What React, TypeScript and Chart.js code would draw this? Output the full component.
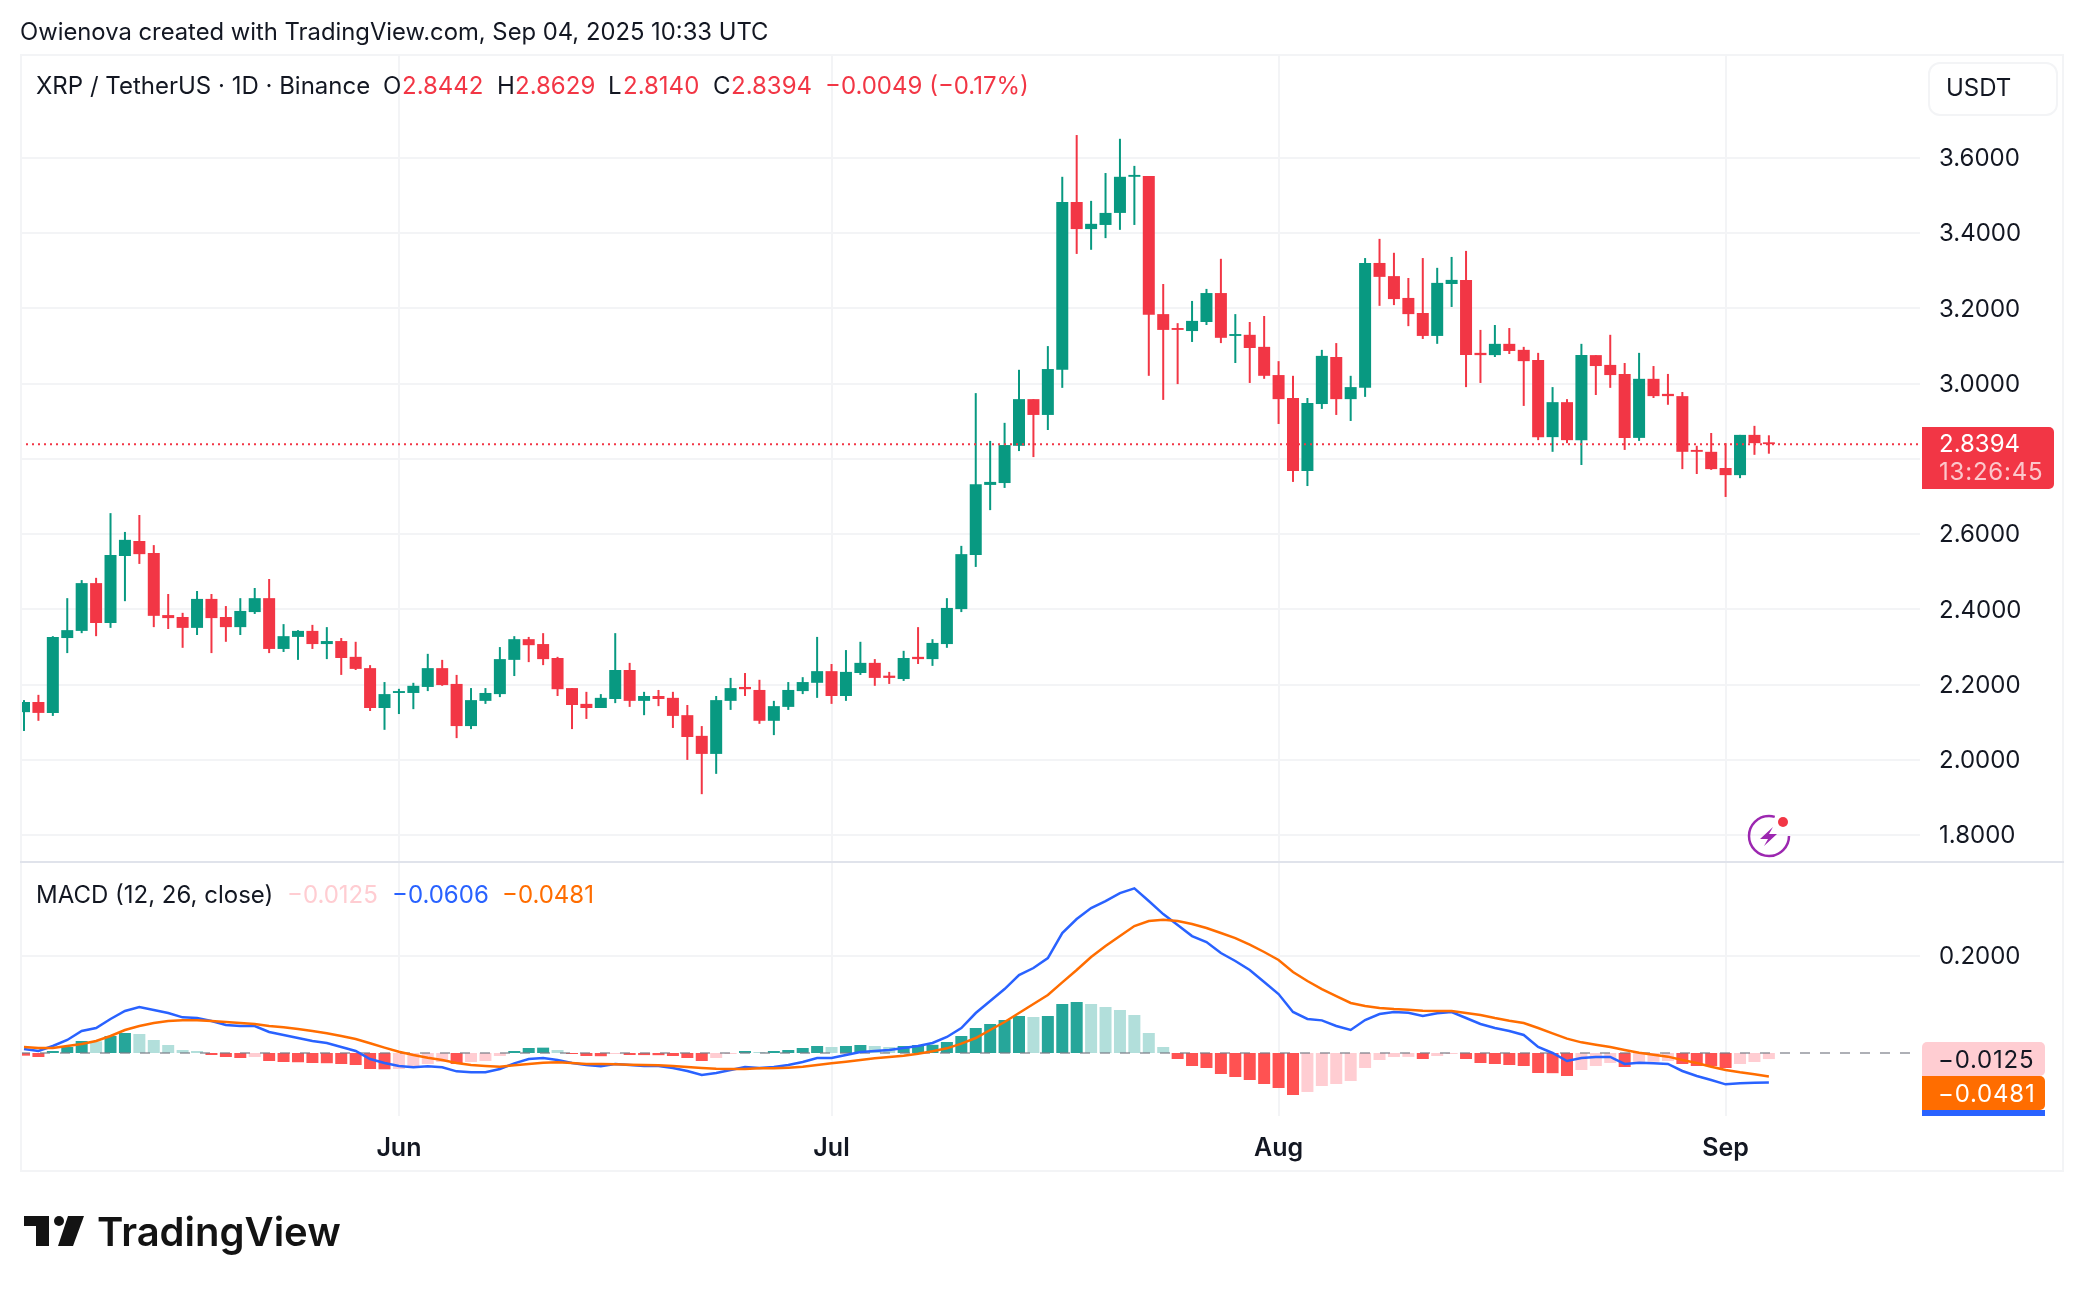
import React, { useEffect, useRef } from 'react';
import { Chart, registerables } from 'chart.js';

Chart.register(...registerables);

// XRP/USDT daily, May 6 to Sep 4 2025, one entry per day
const opens = [
  2.127, 2.154, 2.125, 2.324, 2.343, 2.470, 2.364, 2.542, 2.582, 2.550, 2.385, 2.380, 2.351, 2.428, 2.380, 2.353, 2.393, 2.430, 2.295, 2.327,
  2.343, 2.308, 2.316, 2.274, 2.244, 2.138, 2.178, 2.178, 2.194, 2.244, 2.202, 2.090, 2.157, 2.175, 2.266, 2.321, 2.308, 2.271, 2.191, 2.149,
  2.138, 2.162, 2.239, 2.157, 2.170, 2.165, 2.119, 2.064, 2.016, 2.157, 2.194, 2.186, 2.104, 2.141, 2.183, 2.205, 2.236, 2.170, 2.231, 2.258,
  2.224, 2.215, 2.274, 2.268, 2.308, 2.401, 2.545, 2.731, 2.736, 2.835, 2.959, 2.917, 3.037, 3.483, 3.411, 3.422, 3.454, 3.550, 3.552, 3.185,
  3.148, 3.140, 3.164, 3.241, 3.127, 3.130, 3.098, 3.023, 2.962, 2.768, 2.946, 3.071, 2.959, 2.989, 3.321, 3.286, 3.228, 3.188, 3.127, 3.265,
  3.276, 3.082, 3.076, 3.106, 3.090, 3.063, 2.858, 2.951, 2.850, 3.076, 3.050, 3.026, 2.856, 3.013, 2.973, 2.967, 2.824, 2.819, 2.776, 2.757,
  2.864, 2.8442,
];
const highs = [
  2.159, 2.173, 2.329, 2.430, 2.478, 2.484, 2.656, 2.606, 2.651, 2.571, 2.441, 2.391, 2.449, 2.441, 2.409, 2.430, 2.457, 2.481, 2.361, 2.345,
  2.359, 2.353, 2.324, 2.314, 2.252, 2.207, 2.189, 2.205, 2.282, 2.266, 2.226, 2.191, 2.191, 2.300, 2.329, 2.327, 2.337, 2.274, 2.191, 2.181,
  2.175, 2.337, 2.258, 2.181, 2.186, 2.181, 2.146, 2.090, 2.170, 2.218, 2.231, 2.213, 2.157, 2.207, 2.220, 2.327, 2.255, 2.292, 2.314, 2.268,
  2.234, 2.290, 2.353, 2.321, 2.430, 2.569, 2.975, 2.848, 2.896, 3.037, 2.959, 3.100, 3.550, 3.661, 3.486, 3.560, 3.651, 3.579, 3.552, 3.265,
  3.161, 3.220, 3.252, 3.332, 3.185, 3.164, 3.180, 3.060, 3.021, 2.962, 3.090, 3.108, 3.021, 3.334, 3.385, 3.348, 3.281, 3.334, 3.308, 3.337,
  3.353, 3.143, 3.156, 3.148, 3.098, 3.082, 2.991, 2.959, 3.106, 3.076, 3.130, 3.055, 3.082, 3.047, 3.026, 2.978, 2.835, 2.869, 2.842, 2.864,
  2.888, 2.8629,
];
const lows = [
  2.077, 2.104, 2.117, 2.284, 2.337, 2.329, 2.351, 2.422, 2.521, 2.353, 2.348, 2.298, 2.332, 2.284, 2.314, 2.332, 2.388, 2.284, 2.287, 2.266,
  2.295, 2.268, 2.226, 2.239, 2.130, 2.080, 2.122, 2.135, 2.183, 2.197, 2.058, 2.082, 2.149, 2.167, 2.223, 2.260, 2.252, 2.170, 2.082, 2.109,
  2.138, 2.151, 2.141, 2.119, 2.143, 2.085, 2.000, 1.909, 1.963, 2.133, 2.170, 2.096, 2.066, 2.133, 2.175, 2.165, 2.149, 2.157, 2.226, 2.197,
  2.202, 2.210, 2.255, 2.250, 2.298, 2.393, 2.513, 2.664, 2.723, 2.821, 2.805, 2.877, 2.989, 3.345, 3.356, 3.387, 3.409, 3.422, 3.021, 2.957,
  2.999, 3.111, 3.156, 3.108, 3.055, 3.002, 3.013, 2.893, 2.739, 2.728, 2.933, 2.917, 2.901, 2.965, 3.207, 3.209, 3.153, 3.119, 3.106, 3.204,
  2.991, 3.002, 3.071, 3.079, 2.941, 2.850, 2.819, 2.842, 2.784, 2.970, 2.989, 2.824, 2.848, 2.962, 2.944, 2.773, 2.760, 2.771, 2.699, 2.749,
  2.811, 2.8140,
];
const closes = [
  2.154, 2.125, 2.327, 2.345, 2.470, 2.364, 2.545, 2.585, 2.547, 2.383, 2.377, 2.351, 2.428, 2.377, 2.353, 2.396, 2.430, 2.295, 2.329, 2.343,
  2.308, 2.316, 2.271, 2.242, 2.138, 2.175, 2.183, 2.197, 2.244, 2.199, 2.090, 2.159, 2.178, 2.268, 2.321, 2.305, 2.268, 2.188, 2.146, 2.138,
  2.165, 2.239, 2.157, 2.170, 2.162, 2.117, 2.061, 2.016, 2.159, 2.191, 2.188, 2.104, 2.143, 2.186, 2.207, 2.236, 2.170, 2.234, 2.258, 2.218,
  2.218, 2.271, 2.268, 2.311, 2.404, 2.547, 2.733, 2.739, 2.837, 2.959, 2.917, 3.039, 3.483, 3.411, 3.425, 3.454, 3.550, 3.555, 3.183, 3.143,
  3.143, 3.167, 3.241, 3.122, 3.132, 3.095, 3.021, 2.959, 2.768, 2.949, 3.074, 2.959, 2.991, 3.321, 3.284, 3.225, 3.185, 3.127, 3.268, 3.276,
  3.076, 3.076, 3.106, 3.087, 3.060, 2.858, 2.951, 2.850, 3.076, 3.047, 3.023, 2.856, 3.013, 2.967, 2.967, 2.819, 2.819, 2.773, 2.757, 2.864,
  2.842, 2.8394,
];

const macdHist = [
  -0.0055, -0.0082, 0.0041, 0.0123, 0.0247, 0.0240, 0.0349, 0.0411, 0.0390, 0.0267, 0.0164, 0.0062, 0.0041, -0.0041, -0.0082, -0.0103, -0.0082, -0.0164, -0.0185, -0.0190,
  -0.0206, -0.0210, -0.0226, -0.0247, -0.0329, -0.0335, -0.0329, -0.0288, -0.0226, -0.0185, -0.0226, -0.0185, -0.0164, -0.0062, 0.0041, 0.0103, 0.0110, 0.0062, -0.0021, -0.0062,
  -0.0066, -0.0021, -0.0041, -0.0043, -0.0045, -0.0062, -0.0103, -0.0164, -0.0103, -0.0021, 0.0041, 0.0021, 0.0041, 0.0062, 0.0103, 0.0144, 0.0123, 0.0144, 0.0164, 0.0144,
  0.0123, 0.0144, 0.0164, 0.0168, 0.0226, 0.0349, 0.0514, 0.0596, 0.0678, 0.0760, 0.0740, 0.0760, 0.1007, 0.1048, 0.1007, 0.0945, 0.0884, 0.0781, 0.0411, 0.0123,
  -0.0123, -0.0267, -0.0308, -0.0432, -0.0493, -0.0555, -0.0637, -0.0719, -0.0863, -0.0801, -0.0678, -0.0637, -0.0575, -0.0308, -0.0144, -0.0082, -0.0080, -0.0123, -0.0062, -0.0021,
  -0.0123, -0.0206, -0.0226, -0.0247, -0.0267, -0.0411, -0.0415, -0.0473, -0.0349, -0.0267, -0.0206, -0.0288, -0.0185, -0.0180, -0.0164, -0.0226, -0.0267, -0.0270, -0.0308, -0.0226,
  -0.0185, -0.0125,
];
const macdLine = [
  0.0082, 0.0041, 0.0144, 0.0267, 0.0452, 0.0514, 0.0699, 0.0863, 0.0945, 0.0884, 0.0822, 0.0733, 0.0719, 0.0658, 0.0575, 0.0555, 0.0555, 0.0432, 0.0370, 0.0308,
  0.0247, 0.0206, 0.0123, 0.0041, -0.0123, -0.0206, -0.0267, -0.0295, -0.0274, -0.0295, -0.0377, -0.0397, -0.0397, -0.0329, -0.0212, -0.0123, -0.0103, -0.0144, -0.0206, -0.0247,
  -0.0274, -0.0226, -0.0247, -0.0267, -0.0267, -0.0308, -0.0370, -0.0452, -0.0411, -0.0349, -0.0288, -0.0308, -0.0288, -0.0247, -0.0185, -0.0103, -0.0103, -0.0041, 0.0021, 0.0041,
  0.0062, 0.0103, 0.0144, 0.0206, 0.0329, 0.0514, 0.0822, 0.1069, 0.1315, 0.1603, 0.1747, 0.1952, 0.2466, 0.2754, 0.2980, 0.3124, 0.3288, 0.3384, 0.3124, 0.2856,
  0.2630, 0.2404, 0.2281, 0.2055, 0.1891, 0.1706, 0.1459, 0.1212, 0.0843, 0.0699, 0.0671, 0.0555, 0.0473, 0.0678, 0.0801, 0.0843, 0.0829, 0.0760, 0.0815, 0.0843,
  0.0719, 0.0596, 0.0514, 0.0452, 0.0370, 0.0123, 0.0000, -0.0164, -0.0103, -0.0082, -0.0082, -0.0226, -0.0199, -0.0212, -0.0226, -0.0370, -0.0473, -0.0555, -0.0644, -0.0623,
  -0.0610, -0.0606,
];
const signalLine = [
  0.0123, 0.0103, 0.0103, 0.0144, 0.0185, 0.0247, 0.0349, 0.0473, 0.0555, 0.0617, 0.0658, 0.0671, 0.0671, 0.0658, 0.0637, 0.0617, 0.0596, 0.0555, 0.0527, 0.0493,
  0.0452, 0.0404, 0.0349, 0.0288, 0.0199, 0.0110, 0.0027, -0.0041, -0.0096, -0.0144, -0.0206, -0.0247, -0.0267, -0.0281, -0.0253, -0.0226, -0.0199, -0.0192, -0.0206, -0.0226,
  -0.0226, -0.0233, -0.0240, -0.0247, -0.0253, -0.0267, -0.0288, -0.0308, -0.0322, -0.0329, -0.0329, -0.0315, -0.0315, -0.0301, -0.0281, -0.0247, -0.0212, -0.0178, -0.0144, -0.0110,
  -0.0082, -0.0055, -0.0014, 0.0034, 0.0096, 0.0192, 0.0308, 0.0473, 0.0637, 0.0822, 0.1007, 0.1192, 0.1452, 0.1706, 0.1973, 0.2199, 0.2404, 0.2610, 0.2713, 0.2740,
  0.2713, 0.2651, 0.2569, 0.2466, 0.2363, 0.2226, 0.2076, 0.1911, 0.1665, 0.1480, 0.1315, 0.1171, 0.1028, 0.0966, 0.0925, 0.0904, 0.0891, 0.0870, 0.0863, 0.0863,
  0.0822, 0.0781, 0.0719, 0.0664, 0.0617, 0.0514, 0.0404, 0.0295, 0.0219, 0.0171, 0.0123, 0.0062, 0.0007, -0.0034, -0.0075, -0.0144, -0.0206, -0.0281, -0.0349, -0.0397,
  -0.0438, -0.0481,
];

const priceTicks = [1.8, 2.0, 2.2, 2.4, 2.6, 2.8, 3.0, 3.2, 3.4, 3.6];
const macdTicks = [0.2];
const monthLabels = ['Jun', 'Jul', 'Aug', 'Sep'];
const monthIndexes = [26, 56, 87, 118];
const lastPrice = 2.8394;

const UP = '#089981';
const DOWN = '#F23645';
const INK = '#131722';
const GRID = '#F3F4F6';
const FONT = 'Inter, "Noto Sans", sans-serif';

// day index range visible in the pane, price and MACD ranges of the two panes
const X_MIN = -0.277;
const X_MAX = 131.48;
const PRICE_MIN = 1.7287;
const PRICE_MAX = 3.8764;
const MACD_MIN = -0.1295;
const MACD_MAX = 0.3926;

const histColor = (v: number, i: number) => {
  const prev = i > 0 ? macdHist[i - 1] : 0;
  if (v >= 0) return v > prev ? '#26A69A' : '#B2DFDB';
  return v < prev ? '#FF5252' : '#FFCDD2';
};

const Txt: React.FC<{
  x: number;
  y: number;
  size?: number;
  color?: string;
  weight?: number;
  spacing?: number;
  children: React.ReactNode;
}> = ({ x, y, size = 24, color = INK, weight = 400, spacing = 0, children }) => (
  <span
    style={{
      position: 'absolute',
      left: x,
      top: y,
      transform: 'translateY(-50%)',
      fontFamily: FONT,
      fontSize: size,
      color,
      fontWeight: weight,
      letterSpacing: spacing,
      whiteSpace: 'pre',
      lineHeight: 1,
    }}
  >
    {children}
  </span>
);

const CandleChart: React.FC = () => {
  const canvasRef = useRef<HTMLCanvasElement>(null);

  useEffect(() => {
    if (!canvasRef.current) return;
    document.body.style.margin = '0';

    const candleColors = closes.map((c, i) => (c >= opens[i] ? UP : DOWN));

    const chart = new Chart(canvasRef.current, {
      type: 'bar',
      data: {
        datasets: [
          {
            type: 'line',
            data: [
              { x: X_MIN, y: lastPrice },
              { x: X_MAX, y: lastPrice },
            ],
            yAxisID: 'y',
            borderColor: DOWN,
            borderWidth: 2,
            borderDash: [2, 4],
            pointRadius: 0,
            clip: false,
            order: 1,
          },
          {
            data: opens.map((o, i) => ({ x: i, y: [o, closes[i]] })),
            yAxisID: 'y',
            backgroundColor: candleColors,
            barThickness: 12,
            inflateAmount: 0,
            clip: false,
            order: 6,
          },
          {
            data: lows.map((l, i) => ({ x: i, y: [l, highs[i]] })),
            yAxisID: 'y',
            backgroundColor: candleColors,
            barThickness: 2,
            inflateAmount: 0,
            clip: false,
            order: 7,
          },
          {
            data: macdHist.map((v, i) => ({ x: i, y: v })),
            yAxisID: 'macd',
            backgroundColor: macdHist.map(histColor),
            barThickness: 12,
            inflateAmount: 0,
            clip: false,
            order: 5,
          },
          {
            type: 'line',
            data: [
              { x: X_MIN, y: 0 },
              { x: X_MAX, y: 0 },
            ],
            yAxisID: 'macd',
            borderColor: 'rgba(120, 123, 134, 0.6)',
            borderWidth: 2,
            borderDash: [10, 10],
            pointRadius: 0,
            clip: false,
            order: 4,
          },
          {
            type: 'line',
            data: macdLine.map((v, i) => ({ x: i, y: v })),
            yAxisID: 'macd',
            borderColor: '#2962FF',
            borderWidth: 2.5,
            pointRadius: 0,
            clip: false,
            order: 3,
          },
          {
            type: 'line',
            data: signalLine.map((v, i) => ({ x: i, y: v })),
            yAxisID: 'macd',
            borderColor: '#FF6D00',
            borderWidth: 2.5,
            pointRadius: 0,
            clip: false,
            order: 2,
          },
        ] as any,
      },
      options: {
        animation: false,
        responsive: false,
        events: [],
        grouped: false,
        layout: { padding: { left: 20, right: 20, top: 54, bottom: 120 } },
        plugins: {
          legend: { display: false },
          tooltip: { enabled: false },
        },
        scales: {
          x: {
            type: 'linear',
            offset: false,
            min: X_MIN,
            max: X_MAX,
            afterBuildTicks: (scale: any) => {
              scale.ticks = monthIndexes.map(value => ({ value }));
            },
            afterFit: (scale: any) => {
              scale.height = 56;
            },
            border: { display: false },
            grid: { color: GRID, lineWidth: 2, offset: false, drawTicks: false },
            ticks: {
              autoSkip: false,
              maxRotation: 0,
              padding: 17,
              color: INK,
              font: { family: FONT, size: 25, weight: 600 },
              callback: (_v: any, i: number) => monthLabels[i],
            },
          },
          y: {
            position: 'right',
            stack: 'panes',
            stackWeight: 808,
            min: PRICE_MIN,
            max: PRICE_MAX,
            afterBuildTicks: (scale: any) => {
              scale.ticks = priceTicks.map(value => ({ value }));
            },
            afterFit: (scale: any) => {
              scale.width = 144;
            },
            border: { display: false },
            grid: { color: GRID, lineWidth: 2, drawTicks: false },
            ticks: {
              autoSkip: false,
              crossAlign: 'near',
              padding: 19,
              labelOffset: 1,
              color: INK,
              font: { family: FONT, size: 24 },
              callback: (v: any) => Number(v).toFixed(4),
            },
          },
          macd: {
            position: 'right',
            stack: 'panes',
            stackWeight: 254,
            min: MACD_MIN,
            max: MACD_MAX,
            afterBuildTicks: (scale: any) => {
              scale.ticks = macdTicks.map(value => ({ value }));
            },
            afterFit: (scale: any) => {
              scale.width = 144;
            },
            border: { display: false },
            grid: { color: GRID, lineWidth: 2, drawTicks: false },
            ticks: {
              autoSkip: false,
              crossAlign: 'near',
              padding: 19,
              labelOffset: 1,
              color: INK,
              font: { family: FONT, size: 24 },
              callback: (v: any) => Number(v).toFixed(4),
            },
          },
        },
      } as any,
    });

    return () => chart.destroy();
  }, []);

  return <canvas ref={canvasRef} width={2084} height={1292} style={{ display: 'block' }}></canvas>;
};

const Tag: React.FC<{ y: number; h: number; bg: string; r: string }> = ({ y, h, bg, r }) => (
  <div style={{ position: 'absolute', left: 1922, top: y, width: 123, height: h, background: bg, borderRadius: r }} />
);

export default function App() {
  return (
    <div style={{ position: 'relative', width: 2084, height: 1292, background: '#fff', overflow: 'hidden' }}>
      <CandleChart />

      {/* first candle is cut by the pane edge, mask what hangs past it */}
      <div style={{ position: 'absolute', left: 0, top: 54, width: 20, height: 1118, background: '#fff' }} />

      {/* frame and pane divider */}
      <div style={{ position: 'absolute', left: 20, top: 54, width: 2040, height: 1114, border: `2px solid ${GRID}` }} />
      <div style={{ position: 'absolute', left: 20, top: 861, width: 2044, height: 2, background: '#E0E3EB' }} />

      <Txt x={20} y={32} size={23.8}>Owienova created with TradingView.com, Sep 04, 2025 10:33 UTC</Txt>

      <Txt x={36} y={86}>XRP / TetherUS · 1D · Binance</Txt>
      <Txt x={383} y={86}>O</Txt>
      <Txt x={402} y={86} color={DOWN}>2.8442</Txt>
      <Txt x={497} y={86}>H</Txt>
      <Txt x={515} y={86} color={DOWN}>2.8629</Txt>
      <Txt x={608} y={86}>L</Txt>
      <Txt x={623} y={86} color={DOWN}>2.8140</Txt>
      <Txt x={713} y={86}>C</Txt>
      <Txt x={731} y={86} color={DOWN}>2.8394</Txt>
      <Txt x={825} y={86} color={DOWN}>−0.0049 (−0.17%)</Txt>

      <div
        style={{
          position: 'absolute',
          left: 1928,
          top: 62,
          width: 126,
          height: 50,
          border: `2px solid ${GRID}`,
          borderRadius: 12,
          background: '#fff',
        }}
      />
      <Txt x={1946} y={88}>USDT</Txt>

      {/* last price label */}
      <div style={{ position: 'absolute', left: 1922, top: 427, width: 132, height: 62, background: DOWN, borderRadius: '0 5px 5px 0' }} />
      <Txt x={1939} y={444} color="#fff">2.8394</Txt>
      <Txt x={1939} y={472} color="rgba(255,255,255,0.72)" spacing={0.8}>13:26:45</Txt>

      <Txt x={36} y={895}>MACD (12, 26, close)</Txt>
      <Txt x={287} y={895} color="#FFCDD2">−0.0125</Txt>
      <Txt x={392} y={895} color="#2962FF">−0.0606</Txt>
      <Txt x={502} y={895} color="#FF6D00">−0.0481</Txt>

      {/* MACD value labels */}
      <Tag y={1110} h={6} bg="#2962FF" r="0" />
      <Tag y={1076} h={34} bg="#FF6D00" r="0 5px 5px 0" />
      <Tag y={1042} h={34} bg="#FFCDD2" r="5px 5px 5px 0" />
      <Txt x={1938} y={1060} spacing={0.8}>−0.0125</Txt>
      <Txt x={1938} y={1094} color="#fff" spacing={0.8}>−0.0481</Txt>

      {/* news badge */}
      <svg style={{ position: 'absolute', left: 1745, top: 810 }} width={50} height={50} viewBox="0 0 50 50">
        <circle cx={24} cy={26} r={20} fill="none" stroke="#9C27B0" strokeWidth={2.5} strokeDasharray="99.5 26.2" />
        <path d="M28 17 L15 29 L23 29 L19 36 L32 24 L24 24 Z" fill="#9C27B0" />
        <circle cx={38} cy={12} r={5} fill={DOWN} />
      </svg>

      {/* TradingView mark */}
      <svg style={{ position: 'absolute', left: 24, top: 1216 }} width={62} height={32} viewBox="0 0 62 32">
        <path d="M0 0 H25 V30 H12 V10 H0 Z" fill="#131313" />
        <circle cx={35} cy={5} r={5} fill="#131313" />
        <path d="M44 0 H60 L49 30 H34 Z" fill="#131313" />
      </svg>
      <Txt x={97} y={1232} size={40} weight={600} color="#131313">TradingView</Txt>
    </div>
  );
}
